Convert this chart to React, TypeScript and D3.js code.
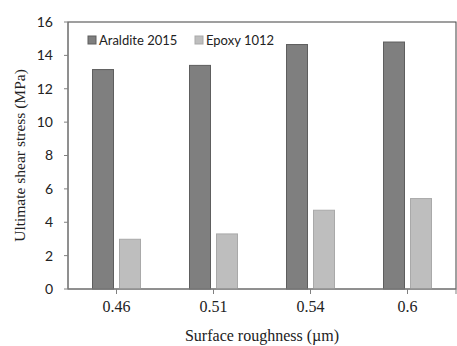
import React from 'react';
import * as d3 from 'd3';

const width = 457;
const height = 346;
const margin = { top: 22, right: 1, bottom: 57, left: 68 };

const roughness = ['0.46', '0.51', '0.54', '0.6'];
const series = ['Araldite 2015', 'Epoxy 1012'];
const araldite = [13.15, 13.4, 14.65, 14.8];
const epoxy = [2.98, 3.3, 4.72, 5.42];
const yTicks = [0, 2, 4, 6, 8, 10, 12, 14, 16];

const fills = ['#7f7f7f', '#bebebe'];
const strokes = ['#5e5e5e', '#a9a9a9'];

const App = () => {
  const innerW = width - margin.left - margin.right;
  const innerH = height - margin.top - margin.bottom;

  const x = d3.scaleBand().domain(roughness).range([0, innerW]);
  const y = d3.scaleLinear().domain([0, 16]).range([innerH, 0]);

  const barW = 21;
  const gap = 6;
  const values = [araldite, epoxy];
  const legendX = [20, 127];

  return (
    <svg width={width} height={height} style={{ position: 'absolute', left: 0, top: 0 }}>
      <rect width={width} height={height} fill="#fff" />
      <g transform={`translate(${margin.left},${margin.top})`}>
        {/* frame */}
        <rect x={0} y={0} width={innerW} height={innerH} fill="none" stroke="#404040" strokeWidth={1} />

        {/* bars */}
        {roughness.map((r, i) => {
          const cx = x(r)! + x.bandwidth() / 2;
          return values.map((vals, s) => {
            const x0 = s === 0 ? cx - gap / 2 - barW : cx + gap / 2;
            return (
              <rect
                key={`${r}-${s}`}
                x={x0}
                y={y(vals[i])}
                width={barW}
                height={innerH - y(vals[i])}
                fill={fills[s]}
                stroke={strokes[s]}
                strokeWidth={1}
              />
            );
          });
        })}

        {/* y axis */}
        <line x1={0} x2={0} y1={0} y2={innerH} stroke="#808080" />
        {yTicks.map(t => (
          <g key={t} transform={`translate(0,${y(t)})`}>
            <line x1={-4} x2={0} stroke="#808080" />
            <text
              x={-15}
              dy="0.35em"
              textAnchor="end"
              fontFamily="Lato, 'Open Sans', sans-serif"
              fontSize={14}
              fill="#222"
            >
              {t}
            </text>
          </g>
        ))}

        {/* x axis */}
        <line x1={0} x2={innerW} y1={innerH} y2={innerH} stroke="#808080" />
        {roughness.map(r => (
          <g key={r} transform={`translate(${x(r)! + x.bandwidth() / 2},${innerH})`}>
            <line y1={0} y2={5} stroke="#808080" />
            <text
              y={23}
              textAnchor="middle"
              fontFamily="'Liberation Serif', 'Times New Roman', serif"
              fontSize={16}
              fill="#222"
            >
              {r}
            </text>
          </g>
        ))}
        <line x1={innerW} x2={innerW} y1={innerH} y2={innerH + 5} stroke="#808080" />

        {/* legend */}
        {series.map((s, i) => (
          <g key={s} transform={`translate(${legendX[i]},14)`}>
            <rect x={0} y={0} width={8} height={8} fill={fills[i]} stroke={strokes[i]} />
            <text
              x={11}
              y={8.5}
              fontFamily="Lato, 'Open Sans', sans-serif"
              fontSize={13}
              fill="#222"
            >
              {s}
            </text>
          </g>
        ))}
      </g>

      {/* axis titles */}
      <text
        transform={`translate(25,${margin.top + innerH / 2}) rotate(-90)`}
        textAnchor="middle"
        fontFamily="'Liberation Serif', 'Times New Roman', serif"
        fontSize={15.5}
        fill="#222"
      >
        Ultimate shear stress (MPa)
      </text>
      <text
        x={margin.left + innerW / 2}
        y={341}
        textAnchor="middle"
        fontFamily="'Liberation Serif', 'Times New Roman', serif"
        fontSize={16}
        fill="#222"
      >
        Surface roughness (µm)
      </text>
    </svg>
  );
};

export default App;
